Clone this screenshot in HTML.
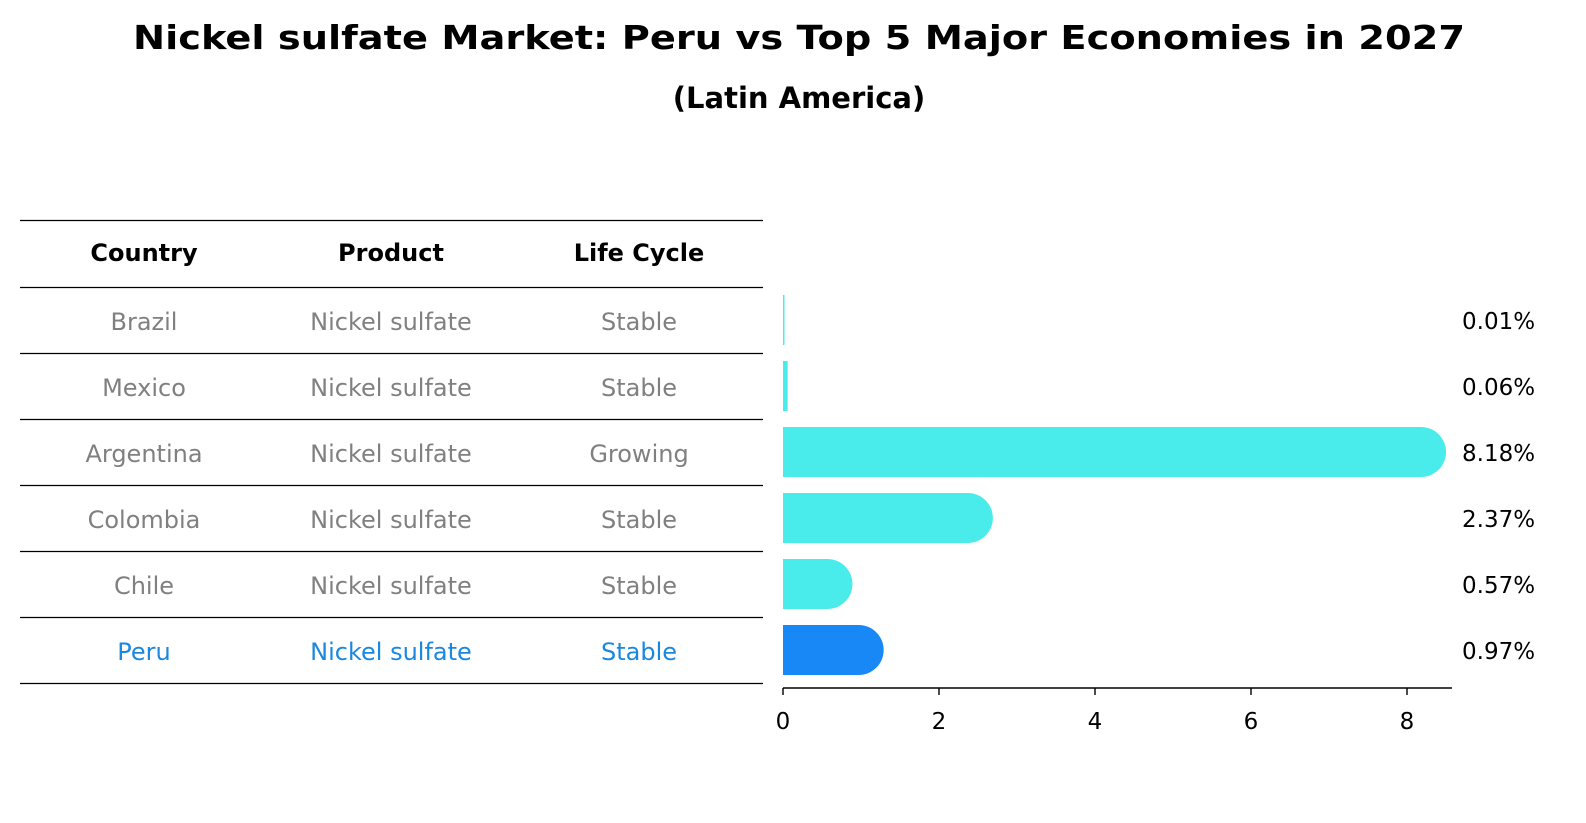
<!DOCTYPE html>
<html><head><meta charset="utf-8"><style>
html,body{margin:0;padding:0;background:#fff;}
svg{display:block;font-family:"DejaVu Sans","Liberation Sans",sans-serif;}
</style></head><body>
<svg id="chart" width="1586" height="823" viewBox="0 0 1586 823">
<text x="799" y="49" text-anchor="middle" font-weight="bold" font-size="33" textLength="1332" lengthAdjust="spacingAndGlyphs">Nickel sulfate Market: Peru vs Top 5 Major Economies in 2027</text>
<text x="799" y="108" text-anchor="middle" font-weight="bold" font-size="29">(Latin America)</text>
<g id="table"></g>
<g id="bars"></g>
</svg>
<script>
const countries = ["Brazil","Mexico","Argentina","Colombia","Chile","Peru"];
const products = ["Nickel sulfate","Nickel sulfate","Nickel sulfate","Nickel sulfate","Nickel sulfate","Nickel sulfate"];
const lifeCycles = ["Stable","Stable","Growing","Stable","Stable","Stable"];
const shares = [0.01,0.06,8.18,2.37,0.57,0.97];
const shareLabels = ["0.01%","0.06%","8.18%","2.37%","0.57%","0.97%"];
const xTicks = [0,2,4,6,8];
const highlight = "Peru";

const NS="http://www.w3.org/2000/svg";
function mk(tag,attrs,parent,txt){const e=document.createElementNS(NS,tag);for(const k in attrs)e.setAttribute(k,attrs[k]);if(txt!==undefined)e.textContent=txt;parent.appendChild(e);return e;}
const x0=783, pxPerUnit=78;
function xs(v){return x0+v*pxPerUnit;}
const rowTop=287, rowH=66;
function ymid(i){return rowTop+rowH*i+rowH/2-3;}

const tbl=document.getElementById('table');
const colX=[144,391,639];
const headers=["Country","Product","Life Cycle"];
let l=mk('line',{x1:20,x2:763,y1:220.5,y2:220.5,stroke:'#000','stroke-width':1.2},tbl);


headers.forEach((h,j)=>{
  const t=mk('text',{x:colX[j],y:261,'text-anchor':'middle','font-weight':'bold','font-size':24},tbl,h);
  
  
});
countries.forEach((c,i)=>{
  const yl=rowTop+rowH*i+0.5;
  const ln=mk('line',{x1:20,x2:763,y1:yl,y2:yl,stroke:'#000','stroke-width':1.2},tbl);
  
  
  const col=c===highlight?'#1a88e0':'#808080';
  const cy=ymid(i)+3+10;
  [c,products[i],lifeCycles[i]].forEach((v,j)=>{
    const t=mk('text',{x:colX[j],y:cy,'text-anchor':'middle','font-size':24,fill:col},tbl,v);
    
    
  });
});
const lb=mk('line',{x1:20,x2:763,y1:683.5,y2:683.5,stroke:'#000','stroke-width':1.2},tbl);



const g=document.getElementById('bars');
const bh=50;
shares.forEach((v,i)=>{
  const yc=ymid(i)+3;
  const top=yc-bh/2;
  const xe=xs(v);
  const col=countries[i]===highlight?'#1888f7':'#4aeceb';
  let d;
  if(v>0.2){
    d=`M${x0},${top} L${xe},${top} A${bh/2},${bh/2} 0 0 1 ${xe},${top+bh} L${x0},${top+bh} Z`;
  } else {
    const w=Math.max(xe-x0,1.5);
    d=`M${x0},${top} h${w} v${bh} h${-w} Z`;
  }
  const p=mk('path',{d:d,fill:col},g);
  
  
  const t=mk('text',{x:1462,y:yc+9,'font-size':23,fill:'#000'},g,shareLabels[i]);
  
  
});
const ax=mk('line',{x1:x0,x2:1452,y1:688,y2:688,stroke:'#000','stroke-width':1.6},g);


xTicks.forEach(v=>{
  const tk=mk('line',{x1:xs(v),x2:xs(v),y1:688,y2:695,stroke:'#000','stroke-width':1.4},g);
  
  
  const t=mk('text',{x:xs(v),y:729,'text-anchor':'middle','font-size':23},g,String(v));
  
  
});
</script>
</body></html>
